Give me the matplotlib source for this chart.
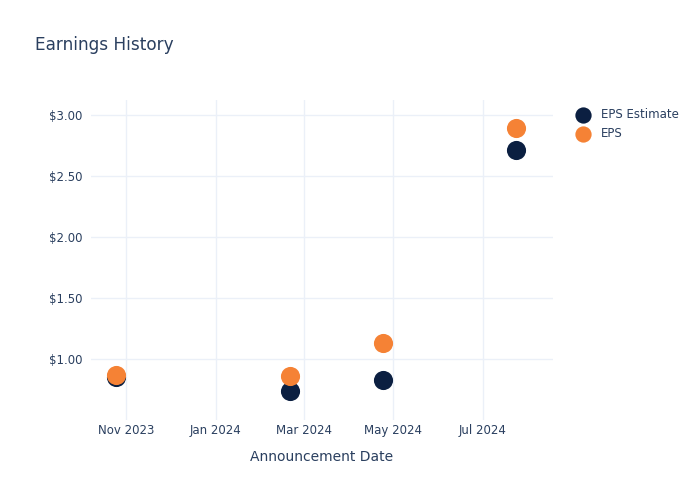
import matplotlib
matplotlib.use("Agg")
import matplotlib.pyplot as plt
import matplotlib.dates as mdates
import numpy as np

# announcement dates and EPS values
dates = np.array(["2023-10-25", "2024-02-21", "2024-04-24", "2024-07-24"], dtype="datetime64[D]")
eps_estimate = [0.85, 0.74, 0.83, 2.71]
eps_actual = [0.87, 0.86, 1.13, 2.89]
y_ticks = [1.0, 1.5, 2.0, 2.5, 3.0]

text_col = "#2a3f5f"
grid_col = "#ebf0f8"

fig = plt.figure(figsize=(7, 5), dpi=100)
ax = fig.add_axes([0.13, 0.16, 0.66, 0.64])

ax.scatter(dates.astype("datetime64[ms]").astype(object), eps_estimate, s=190,
           color="#0b1f41", label="EPS Estimate", zorder=3, linewidths=0)
ax.scatter(dates.astype("datetime64[ms]").astype(object), eps_actual, s=190,
           color="#f58235", label="EPS", zorder=4, linewidths=0)

ax.set_xlim(np.datetime64("2023-10-08").astype(object), np.datetime64("2024-08-18").astype(object))
ax.set_ylim(0.5, 3.12)
ax.set_yticks(y_ticks)
ax.set_yticklabels([f"${v:.2f}" for v in y_ticks])
ax.xaxis.set_major_locator(mdates.MonthLocator(bymonth=[1, 3, 5, 7, 11]))
ax.xaxis.set_major_formatter(mdates.DateFormatter("%b %Y"))

for s in ax.spines.values():
    s.set_visible(False)
ax.grid(True, color=grid_col, linewidth=1)
ax.set_axisbelow(True)
ax.tick_params(length=0, labelsize=8.5, labelcolor=text_col)
ax.tick_params(axis="x", pad=3)
ax.tick_params(axis="y", pad=6)
ax.set_xlabel("Announcement Date", fontsize=10, color=text_col, labelpad=9)

fig.text(0.05, 0.91, "Earnings History", fontsize=12.2, color=text_col, va="center")

ax.legend(loc="upper left", bbox_to_anchor=(1.03, 0.99), frameon=False,
          fontsize=8.5, labelcolor=text_col, handletextpad=0.5, labelspacing=0.5,
          markerscale=0.85, borderaxespad=0)

fig.savefig("out.png", dpi=100)
